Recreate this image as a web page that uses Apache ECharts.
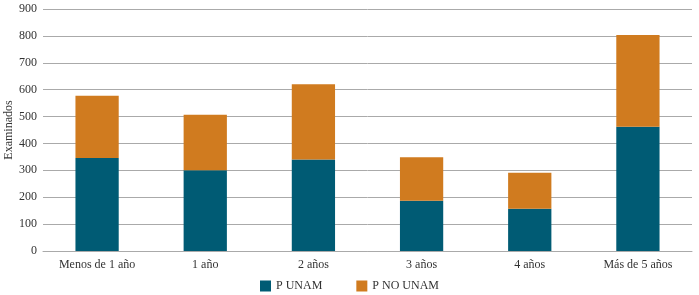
<!DOCTYPE html>
<html>
<head>
<meta charset="utf-8">
<script src="https://cdn.jsdelivr.net/npm/echarts@6/dist/echarts.min.js"></script>
<style>
  html, body { margin: 0; padding: 0; background: #fff; }
  #main { width: 699px; height: 295px; }
</style>
</head>
<body>
<div id="main"></div>
<script>
const categories = ['Menos de 1 año', '1 año', '2 años', '3 años', '4 años', 'Más de 5 años'];
const pUnam = [346, 300, 340, 187, 157, 462];
const pNoUnam = [231, 207, 280, 162, 134, 341];
const yTicks = {min: 0, max: 900, interval: 100};

const font = 'Liberation Serif';
const chart = echarts.init(document.getElementById('main'));
chart.setOption({
    animation: false,
    textStyle: {fontFamily: font},
    grid: {left: 43, right: 7, top: 9, bottom: 44, outerBoundsMode: 'none', containLabel: false},
    legend: {
        bottom: -2,
        left: 'center',
        itemWidth: 11,
        itemHeight: 11,
        itemGap: 34,
        icon: 'rect',
        textStyle: {fontFamily: font, fontSize: 12, color: '#333'},
        data: ['P UNAM', 'P NO UNAM']
    },
    xAxis: {
        type: 'category',
        data: categories,
        axisTick: {show: false},
        axisLine: {lineStyle: {color: '#aaa'}},
        axisLabel: {fontFamily: font, fontSize: 12, color: '#333', margin: 8}
    },
    yAxis: {
        type: 'value',
        min: yTicks.min,
        max: yTicks.max,
        interval: yTicks.interval,
        name: 'Examinados',
        nameLocation: 'middle',
        nameGap: 28,
        nameMoveOverlap: false,
        nameTextStyle: {fontFamily: font, fontSize: 12, color: '#333'},
        axisLine: {show: false},
        axisTick: {show: false},
        axisLabel: {fontFamily: font, fontSize: 12, color: '#333', margin: 6},
        splitLine: {lineStyle: {color: '#aaa', width: 1}}
    },
    series: [
        {
            name: 'P UNAM',
            type: 'bar',
            stack: 'total',
            barWidth: '40%',
            itemStyle: {color: '#005b74'},
            data: pUnam
        },
        {
            name: 'P NO UNAM',
            type: 'bar',
            stack: 'total',
            barWidth: '40%',
            itemStyle: {color: '#d07b1f'},
            data: pNoUnam
        }
    ]
});
</script>
</body>
</html>
